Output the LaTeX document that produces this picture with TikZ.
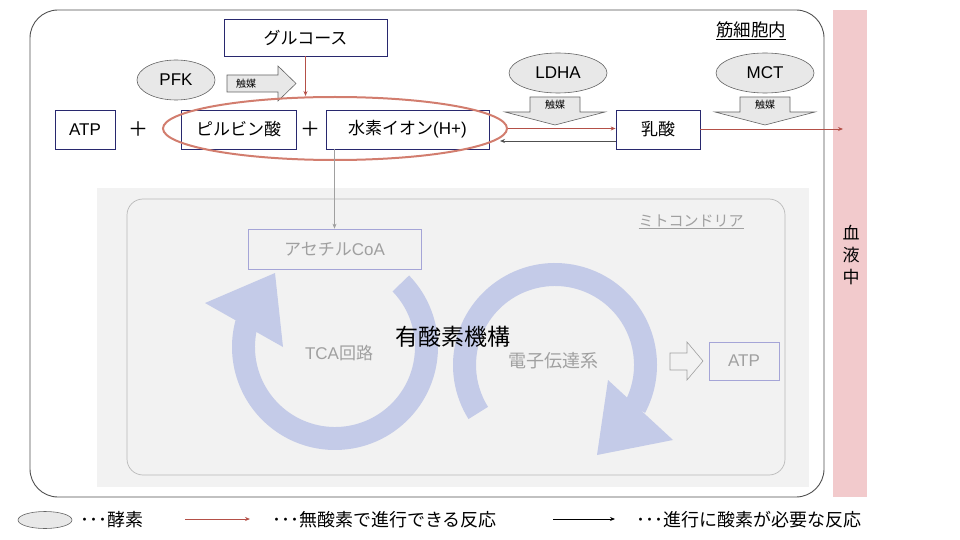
\documentclass[tikz,border=0pt]{standalone}
\usepackage{fontspec}
\setmainfont{Noto Sans CJK JP}
\newfontfamily\latf{Liberation Sans}
\usetikzlibrary{shapes.geometric,arrows.meta}
\definecolor{boxc}{RGB}{40,40,110}
\definecolor{redc}{RGB}{180,80,72}
\definecolor{ellc}{RGB}{210,125,110}
\definecolor{enzf}{RGB}{232,232,232}
\definecolor{enzd}{RGB}{100,100,100}
\definecolor{mitof}{RGB}{242,242,242}
\definecolor{mitod}{RGB}{185,185,185}
\definecolor{gtxt}{RGB}{160,160,160}
\definecolor{gboxc}{RGB}{165,165,215}
\definecolor{ringc}{RGB}{196,203,232}
\definecolor{bloodc}{RGB}{242,202,204}
\definecolor{cellc}{RGB}{80,80,80}
\begin{document}
\begin{tikzpicture}[x=1pt,y=-1pt,
  box/.style={draw=boxc, line width=0.8pt, fill=white, inner sep=0pt, font=\fontsize{17}{20}\selectfont},
  gbox/.style={draw=gboxc, line width=0.7pt, inner sep=0pt, text=gtxt, font=\fontsize{17}{20}\selectfont},
  enz/.style={ellipse, draw=enzd, fill=enzf, line width=0.6pt, inner sep=0pt, font=\fontsize{17}{20}\latf},
  txt/.style={inner sep=0pt, font=\fontsize{17}{20}\selectfont},
  small/.style={inner sep=0pt, font=\fontsize{10}{12}\selectfont},
  blockarr/.style={draw=enzd, fill=enzf, line width=0.6pt},
  redarr/.style={draw=redc, line width=0.8pt, -{Stealth[length=5pt,width=4pt]}},
  darr/.style={draw=cellc, line width=0.8pt, -{Stealth[length=5pt,width=4pt]}},
  garr/.style={draw=gtxt, line width=0.8pt, -{Stealth[length=5pt,width=4pt]}},
  ring/.style={fill=ringc, draw=none}]
\useasboundingbox (0,0) rectangle (960,540);
% cell and blood
\draw[cellc, line width=0.9pt, rounded corners=28] (30,10) rectangle (824,497);
\fill[bloodc] (833,10) rectangle (867,497);
\node[txt, align=center, font=\fontsize{17}{22}\selectfont] (blood) at (851,255) {血\\液\\中};
\node[txt, font=\fontsize{17.5}{20}\selectfont] (cell) at (751,31) {\underline{筋細胞内}};
% mitochondria
\fill[mitof] (97,188) rectangle (809,487);
\draw[mitod, line width=0.7pt, rounded corners=16] (127,199) rectangle (785,475);
\node[txt, text=gtxt, font=\fontsize{15}{18}\selectfont] (mito) at (691,222) {\underline{ミトコンドリア}};
% rings
\path[ring] (335,347) ++(-44:103) arc[start angle=-44, end angle=195, radius=103]
  -- ++(195:-23) arc[start angle=195, end angle=-44, radius=80] -- cycle;
\path[ring] (205,303) -- (275,273) -- (283,347) -- cycle;
\path[ring] (555,365) ++(148:102) arc[start angle=148, end angle=388, radius=102]
  -- ++(388:-23) arc[start angle=388, end angle=148, radius=79] -- cycle;
\path[ring] (608,380) -- (673,440) -- (597,455) -- cycle;
\node[txt, text=gtxt] (tca) at (339,353) {{\latf TCA}回路};
\node[txt, text=gtxt, font=\fontsize{18}{20}\selectfont] (etc) at (553,361) {電子伝達系};
\node[txt, font=\fontsize{23}{26}\selectfont] (aer) at (453,337) {有酸素機構};
\node[gbox, minimum width=173, minimum height=40] (acoa) at (334.5,249) {アセチル{\latf CoA}};
\path[draw=gtxt, fill=mitof, line width=0.6pt] (670,353) -- (687,353) -- (687,342) -- (703,361) -- (687,380) -- (687,370) -- (670,370) -- cycle;
\node[gbox, minimum width=70, minimum height=38, font=\fontsize{17}{20}\latf] (atp2) at (744,361) {ATP};
% top row
\node[box, minimum width=163, minimum height=37] (gluc) at (305.5,37.5) {グルコース};
\node[box, minimum width=60, minimum height=39, font=\fontsize{17}{20}\latf] (atp1) at (85,129.5) {ATP};
\node[txt, font=\fontsize{20}{20}\selectfont] (p1) at (138,129) {＋};
\node[box, minimum width=115, minimum height=39] (pyr) at (238.5,129.5) {ピルビン酸};
\node[txt, font=\fontsize{20}{20}\selectfont] (p2) at (310,129) {＋};
\node[box, minimum width=163, minimum height=39] (hion) at (407.5,129.5) {水素イオン{\latf (H+)}};
\node[box, minimum width=84, minimum height=39] (lac) at (658,129.5) {乳酸};
% enzymes
\node[enz, minimum width=78, minimum height=40] (pfk) at (176,80) {PFK};
\node[enz, minimum width=98, minimum height=40] (ldha) at (558,73) {LDHA};
\node[enz, minimum width=98, minimum height=40] (mct) at (765,73) {MCT};
\path[blockarr] (227,75) -- (278,75) -- (278,66) -- (296,83.5) -- (278,101) -- (278,92) -- (227,92) -- cycle;
\node[small] (cat1) at (246,84) {触媒};
\path[blockarr] (530,97) -- (580,97) -- (580,112) -- (605,112) -- (555,125) -- (505,112) -- (530,112) -- cycle;
\node[small] (cat2) at (555,105) {触媒};
\path[blockarr] (740,97) -- (790,97) -- (790,112) -- (815,112) -- (765,125) -- (715,112) -- (740,112) -- cycle;
\node[small] (cat3) at (765,105) {触媒};
% anaerobic ellipse
\node[ellipse, draw=ellc, line width=2pt, minimum width=344, minimum height=63, inner sep=0pt] (ana) at (335,128.5) {};
% connectors
\coordinate (back) at (500,141);
\coordinate (bl) at (843,129);
\draw[redarr] (gluc.south) -- (gluc.south |- ana.north);
\draw[redarr] (ana.east) -- (ana.east -| lac.west);
\draw[darr] (lac.west |- back) -- (back);
\draw[redarr] (lac.east |- bl) -- (bl);
\draw[garr] (hion.south -| acoa.north) -- (acoa.north);
% legend
\node[enz, minimum width=54, minimum height=17] (lg0) at (45,520) {};
\node[txt, anchor=west, font=\fontsize{18}{20}\selectfont] (lg1) at (80,520) {･･･酵素};
\coordinate (r0) at (185,519);
\coordinate (r1) at (250,519);
\draw[redarr] (r0) -- (r1);
\node[txt, anchor=west, font=\fontsize{18}{20}\selectfont] (lg2) at (272,520) {･･･無酸素で進行できる反応};
\coordinate (k0) at (553,519);
\coordinate (k1) at (615,519);
\draw[line width=0.8pt, -{Stealth[length=5pt,width=4pt]}] (k0) -- (k1);
\node[txt, anchor=west, font=\fontsize{18}{20}\selectfont] (lg3) at (636,520) {･･･進行に酸素が必要な反応};
\end{tikzpicture}
\end{document}
